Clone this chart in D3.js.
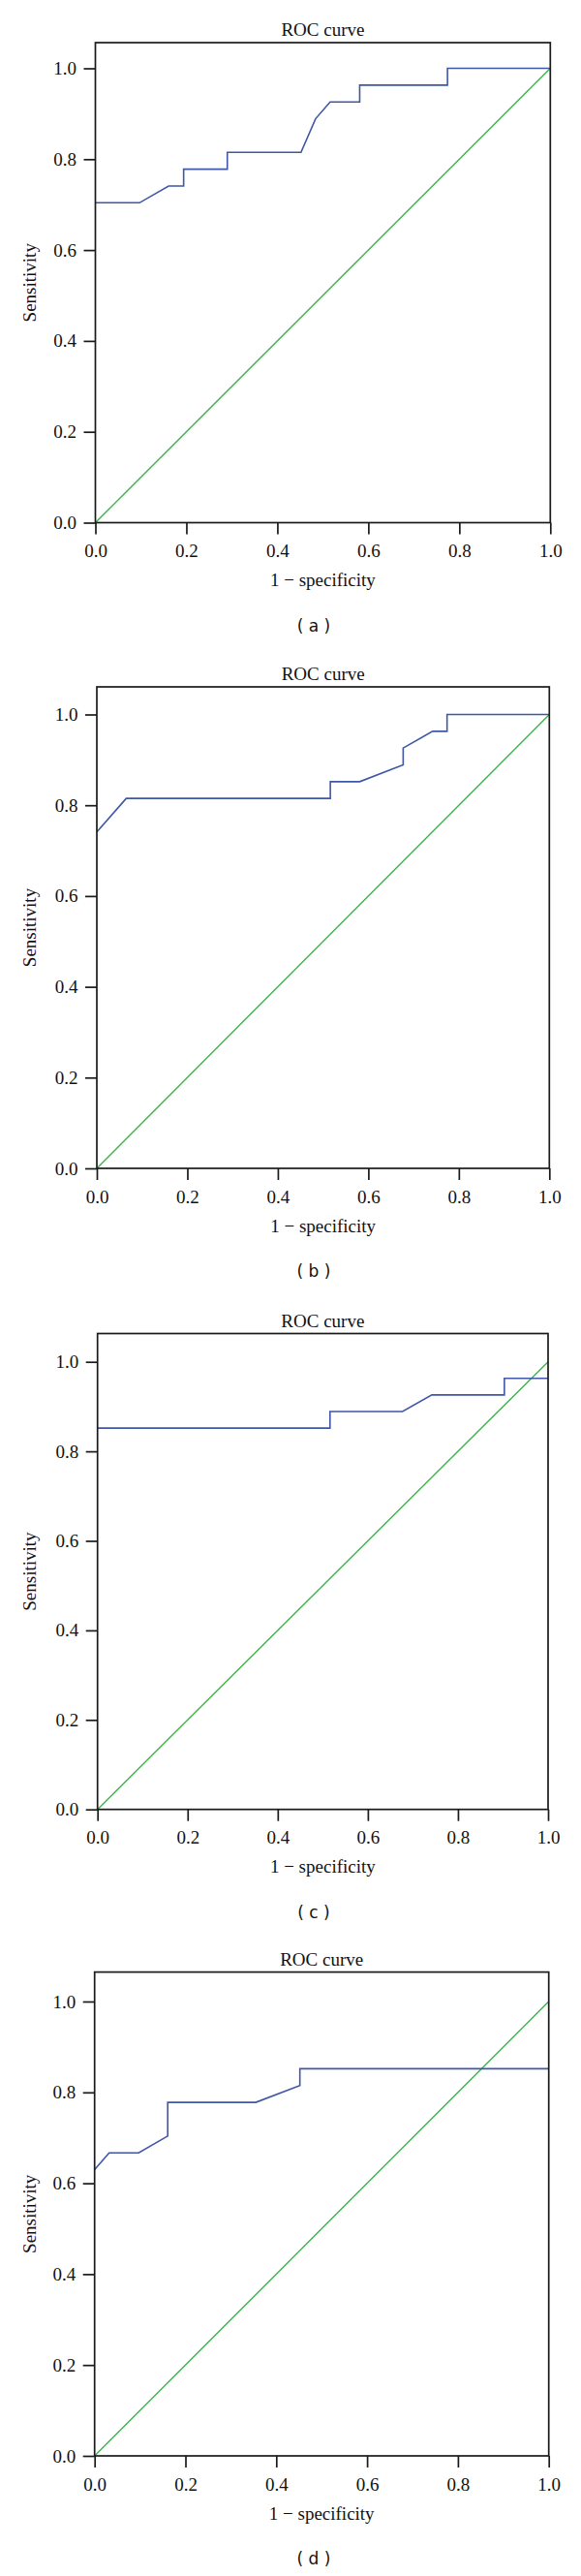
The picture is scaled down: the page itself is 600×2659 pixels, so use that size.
<!DOCTYPE html>
<html>
<head>
<meta charset="utf-8">
<script src="https://cdn.jsdelivr.net/npm/d3@7"></script>
<style>
  html, body { margin: 0; padding: 0; background: #fff; }
  svg { display: block; }
</style>
</head>
<body>
<svg id="chart" width="600" height="2659"></svg>
<script>
// ---------- data ----------
const tickValues = [0, 0.2, 0.4, 0.6, 0.8, 1.0];
const tickLabels = ["0.0", "0.2", "0.4", "0.6", "0.8", "1.0"];
const panelLabels = ["a", "b", "c", "d"];
const chartTitle = "ROC curve";
const xAxisTitle = "1 \u2212 specificity";
const yAxisTitle = "Sensitivity";

const diagX = [0, 1];
const diagY = [0, 1];

const fprA = [0, 0.097, 0.161, 0.194, 0.194, 0.290, 0.290, 0.452, 0.484, 0.516, 0.581, 0.581, 0.774, 0.774, 1.0];
const tprA = [0.704, 0.704, 0.741, 0.741, 0.778, 0.778, 0.815, 0.815, 0.889, 0.926, 0.926, 0.963, 0.963, 1.0, 1.0];

const fprB = [0, 0.065, 0.516, 0.516, 0.581, 0.677, 0.677, 0.742, 0.774, 0.774, 1.0];
const tprB = [0.741, 0.815, 0.815, 0.852, 0.852, 0.889, 0.926, 0.963, 0.963, 1.0, 1.0];

const fprC = [0, 0.516, 0.516, 0.677, 0.742, 0.903, 0.903, 1.0];
const tprC = [0.852, 0.852, 0.889, 0.889, 0.926, 0.926, 0.963, 0.963];

const fprD = [0, 0.032, 0.097, 0.161, 0.161, 0.355, 0.452, 0.452, 1.0];
const tprD = [0.630, 0.667, 0.667, 0.704, 0.778, 0.778, 0.815, 0.852, 0.852];

const curves = [[fprA, tprA], [fprB, tprB], [fprC, tprC], [fprD, tprD]];

// ---------- layout ----------
const layout = [
  { left: 98.5,  right: 568.3, top: 44,     y0: 539.5,  y1: 70.5 },
  { left: 100,   right: 567.3, top: 709,    y0: 1206,   y1: 737.5 },
  { left: 100.7, right: 566,   top: 1376.5, y0: 1867.7, y1: 1405.7 },
  { left: 97.7,  right: 566.7, top: 2035.6, y0: 2535,   y1: 2066 }
];

const serif = "'Liberation Serif', 'Times New Roman', serif";
const fontSize = 19;
const blue = "#3f57a6";
const green = "#3cb34a";
const axisColor = "#1a1a1a";

const svg = d3.select("#chart");

layout.forEach((g, i) => {
  const x = d3.scaleLinear().domain([0, 1]).range([g.left, g.right]);
  const y = d3.scaleLinear().domain([0, 1]).range([g.y0, g.y1]);
  const panel = svg.append("g");

  // diagonal reference line
  const diag = diagX.map((d, k) => [d, diagY[k]]);
  const line = d3.line().x(d => x(d[0])).y(d => y(d[1]));
  panel.append("path")
    .attr("d", line(diag))
    .attr("fill", "none")
    .attr("stroke", green)
    .attr("stroke-width", 1.4);

  // ROC curve
  const [fx, ty] = curves[i];
  const pts = fx.map((d, k) => [d, ty[k]]);
  panel.append("path")
    .attr("d", line(pts))
    .attr("fill", "none")
    .attr("stroke", blue)
    .attr("stroke-width", 1.6)
    .attr("stroke-linejoin", "miter");

  // frame
  panel.append("rect")
    .attr("x", g.left)
    .attr("y", g.top)
    .attr("width", g.right - g.left)
    .attr("height", g.y0 - g.top)
    .attr("fill", "none")
    .attr("stroke", axisColor)
    .attr("stroke-width", 1.7);

  // axes
  const xAxis = d3.axisBottom(x)
    .tickValues(tickValues)
    .tickFormat((d, k) => tickLabels[k])
    .tickSize(12).tickSizeOuter(0).tickPadding(10.3);
  const yAxis = d3.axisLeft(y)
    .tickValues(tickValues)
    .tickFormat((d, k) => tickLabels[k])
    .tickSize(12).tickSizeOuter(0).tickPadding(7.5);

  const gx = panel.append("g").attr("transform", `translate(0,${g.y0})`).call(xAxis);
  const gy = panel.append("g").attr("transform", `translate(${g.left},0)`).call(yAxis);
  [gx, gy].forEach(a => {
    a.select(".domain").remove();
    a.selectAll(".tick line").attr("stroke", axisColor).attr("stroke-width", 1.7);
    a.selectAll(".tick text")
      .attr("fill", "#111")
      .style("font-family", serif)
      .style("font-size", fontSize + "px");
  });

  const cx = (g.left + g.right) / 2;

  // title
  panel.append("text")
    .attr("x", cx).attr("y", g.top - 7)
    .attr("text-anchor", "middle")
    .style("font-family", serif).style("font-size", fontSize + "px")
    .attr("fill", "#111")
    .text(chartTitle);

  // x axis title
  panel.append("text")
    .attr("x", cx).attr("y", g.y0 + 65.5)
    .attr("text-anchor", "middle")
    .style("font-family", serif).style("font-size", fontSize + "px")
    .attr("fill", "#111")
    .text(xAxisTitle);

  // y axis title
  const cy = (g.top + g.y0) / 2;
  panel.append("text")
    .attr("transform", `translate(36.5,${cy}) rotate(-90)`)
    .attr("text-anchor", "middle")
    .style("font-family", serif).style("font-size", fontSize + "px")
    .attr("fill", "#111")
    .text(yAxisTitle);

  // panel caption
  panel.append("text")
    .attr("x", 324).attr("y", g.y0 + 112)
    .attr("text-anchor", "middle")
    .style("font-family", "'DejaVu Sans', sans-serif").style("font-size", "17px")
    .attr("fill", "#111")
    .attr("xml:space", "preserve")
    .style("white-space", "pre")
    .text("( " + panelLabels[i] + " )");
});
</script>
</body>
</html>
